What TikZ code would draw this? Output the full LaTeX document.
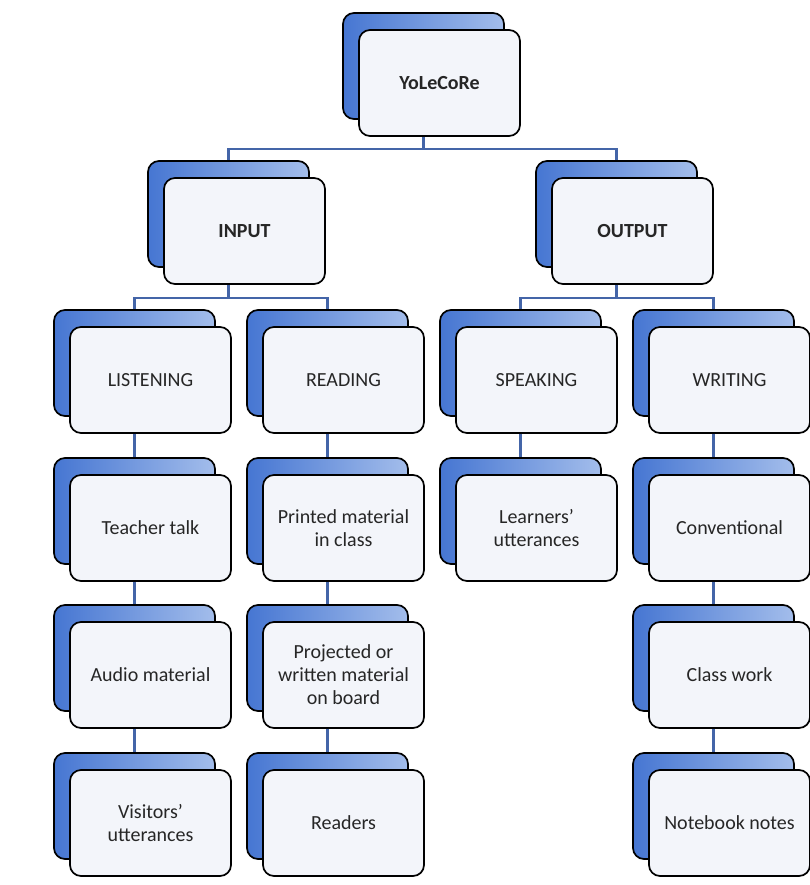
\documentclass[tikz,border=0pt]{standalone}
\usepackage{fontspec}
\setmainfont{Carlito}
\usetikzlibrary{calc}
\definecolor{bluedark}{HTML}{4676D2}
\definecolor{bluelight}{HTML}{A3BDEB}
\definecolor{frontfill}{HTML}{F3F5FA}
\definecolor{conncol}{HTML}{4465A8}
\tikzset{
 backbox/.style={draw=black, line width=1.7pt, rounded corners=11pt, minimum width=161pt, minimum height=106pt, left color=bluedark, right color=bluelight, inner sep=0pt},
 frontbox/.style={draw=black, line width=1.7pt, rounded corners=11pt, minimum width=161pt, minimum height=106pt, fill=frontfill, inner sep=2pt, align=center, font=\fontsize{20}{23}\selectfont, text=black!85},
 boldtext/.style={font=\fontsize{20}{23}\selectfont\bfseries},
 conn/.style={draw=conncol, line width=2.4pt},
}
\newcommand{\pairbox}[5]{%
 \node[backbox] (#1b) at (#2+80.5, #3+53) {};
 \node[frontbox,#5] (#1) at (#2+96.5, #3+70) {#4};
}
\begin{document}
\begin{tikzpicture}[x=1pt,y=-1pt]
\useasboundingbox[fill=white] (0,0) rectangle (809,885);
\pairbox{Y}{343}{13}{YoLeCoRe}{boldtext}
\pairbox{IN}{148}{161}{INPUT}{boldtext}
\pairbox{OUT}{536}{161}{OUTPUT}{boldtext}
\pairbox{LIS}{54}{310}{LISTENING}{}
\pairbox{REA}{247}{310}{READING}{}
\pairbox{SPE}{440}{310}{SPEAKING}{}
\pairbox{WRI}{633}{310}{WRITING}{}
\pairbox{TT}{54}{458}{Teacher talk}{}
\pairbox{PM}{247}{458}{Printed material\\in class}{}
\pairbox{LU}{440}{458}{Learners’\\utterances}{}
\pairbox{CON}{633}{458}{Conventional}{}
\pairbox{AM}{54}{605}{Audio material}{}
\pairbox{PW}{247}{605}{Projected or\\written material\\on board}{}
\pairbox{CW}{633}{605}{Class work}{}
\pairbox{VU}{54}{753}{Visitors’\\utterances}{}
\pairbox{RD}{247}{753}{Readers}{}
\pairbox{NN}{633}{753}{Notebook notes}{}
% buses
\draw[conn] (Y.south -| Yb.center) -- ++(0,12) -| (INb.north);
\draw[conn] (Y.south -| Yb.center) ++(0,12) -| (OUTb.north);
\draw[conn] (IN.south -| INb.center) -- ++(0,13) -| (LISb.north);
\draw[conn] (IN.south -| INb.center) ++(0,13) -| (REAb.north);
\draw[conn] (OUT.south -| OUTb.center) -- ++(0,13) -| (SPEb.north);
\draw[conn] (OUT.south -| OUTb.center) ++(0,13) -| (WRIb.north);
% chains
\draw[conn] (LIS.south -| LISb.center) -- (TTb.north);
\draw[conn] (TT.south -| TTb.center) -- (AMb.north);
\draw[conn] (AM.south -| AMb.center) -- (VUb.north);
\draw[conn] (REA.south -| REAb.center) -- (PMb.north);
\draw[conn] (PM.south -| PMb.center) -- (PWb.north);
\draw[conn] (PW.south -| PWb.center) -- (RDb.north);
\draw[conn] (SPE.south -| SPEb.center) -- (LUb.north);
\draw[conn] (WRI.south -| WRIb.center) -- (CONb.north);
\draw[conn] (CON.south -| CONb.center) -- (CWb.north);
\draw[conn] (CW.south -| CWb.center) -- (NNb.north);
\end{tikzpicture}
\end{document}
